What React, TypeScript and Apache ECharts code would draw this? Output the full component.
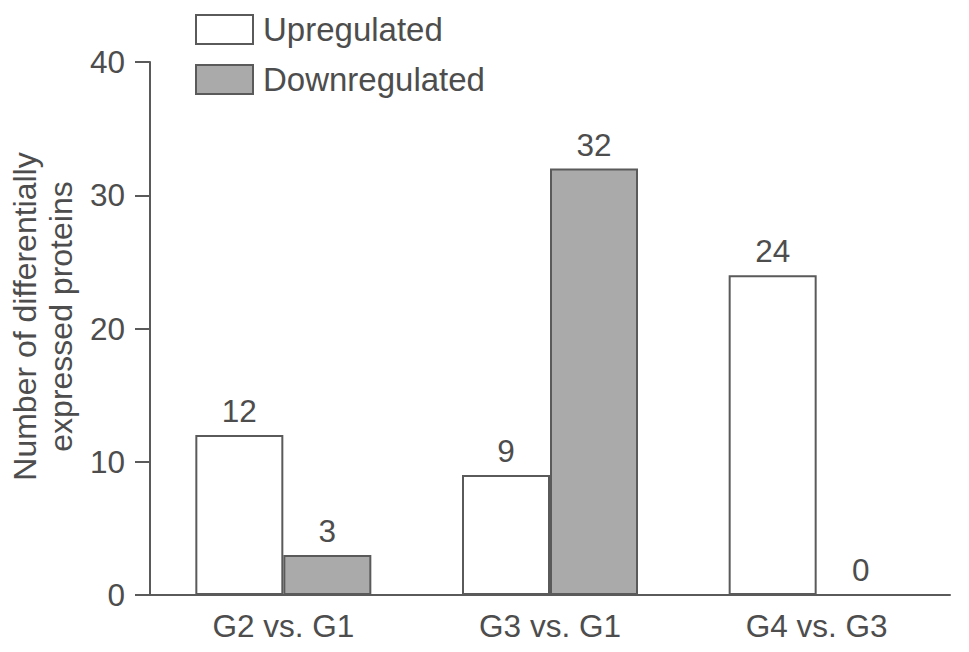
import React, { useEffect, useRef } from "react";
import * as echarts from "echarts";

const categories = ["G2 vs. G1", "G3 vs. G1", "G4 vs. G3"];
const upregulated = [12, 9, 24];
const downregulated = [3, 32, 0];
const seriesNames = ["Upregulated", "Downregulated"];
const yTicks = { min: 0, max: 40, interval: 10 };

const FONT = "Liberation Sans, Arial, sans-serif";
const TEXT = "#4d4d4d";
const LINE = "#5a5a5a";
const FS = 31.5;

export default function App() {
  const ref = useRef<HTMLDivElement>(null);
  useEffect(() => {
    if (!ref.current) return;
    const chart = echarts.init(ref.current, undefined, { renderer: "svg" });
    const label = {
      show: true,
      position: "top" as const,
      distance: 8,
      color: TEXT,
      fontSize: FS,
      fontFamily: FONT,
    };
    chart.setOption({
      animation: false,
      textStyle: { fontFamily: FONT, color: TEXT },
      legend: {
        orient: "vertical",
        left: 190,
        top: 8,
        icon: "rect",
        itemWidth: 57,
        itemHeight: 29,
        itemGap: 17,
        data: seriesNames,
        textStyle: { fontSize: 33, color: TEXT, fontFamily: FONT, padding: [0, 0, 0, 5] },
      },
      grid: { left: 150, right: 19, top: 62, bottom: 57, containLabel: false, outerBoundsMode: "none" },
      xAxis: {
        type: "category",
        data: categories,
        axisLine: { show: true, lineStyle: { color: LINE, width: 2 } },
        axisTick: { show: false },
        axisLabel: { color: TEXT, fontSize: FS, fontFamily: FONT, margin: 15 },
      },
      yAxis: {
        type: "value",
        min: yTicks.min,
        max: yTicks.max,
        interval: yTicks.interval,
        name: "Number of differentially\nexpressed proteins",
        nameLocation: "middle",
        nameGap: 70,
        nameTextStyle: {
          fontSize: 32,
          color: TEXT,
          fontFamily: FONT,
          lineHeight: 36,
          padding: [0, 0, 0, 24],
        },
        axisLine: { show: true, lineStyle: { color: LINE, width: 2 } },
        axisTick: { show: true, length: 15, lineStyle: { color: LINE, width: 2 } },
        axisLabel: { color: TEXT, fontSize: FS, fontFamily: FONT, margin: 25 },
        splitLine: { show: false },
      },
      series: [
        {
          name: seriesNames[0],
          type: "bar",
          data: upregulated,
          barWidth: 88,
          barGap: "0%",
          itemStyle: { color: "#ffffff", borderColor: LINE, borderWidth: 2 },
          label,
        },
        {
          name: seriesNames[1],
          type: "bar",
          data: downregulated,
          barWidth: 88,
          barGap: "0%",
          itemStyle: { color: "#aaaaaa", borderColor: LINE, borderWidth: 2 },
          label,
        },
      ],
    });
    return () => chart.dispose();
  }, []);
  return <div ref={ref} style={{ width: 969, height: 652, position: "absolute", left: 0, top: 0 }} />;
}
